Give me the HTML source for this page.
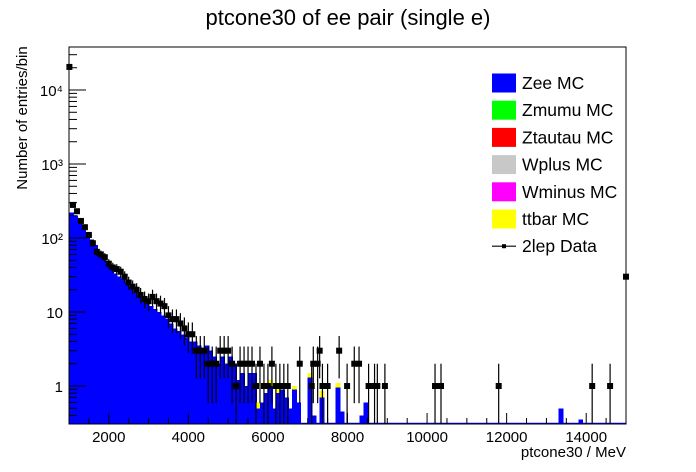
<!DOCTYPE html>
<html><head><meta charset="utf-8"><style>
body{margin:0;background:#fff;}
svg{display:block;font-family:"Liberation Sans",sans-serif;}
</style></head><body>
<svg id="c" width="696" height="472">
<text x="348" y="25" font-size="22" text-anchor="middle">ptcone30 of ee pair (single e)</text>
<text transform="translate(27,118) rotate(-90)" font-size="15" text-anchor="middle">Number of entries/bin</text>
<text x="626" y="457" font-size="15" text-anchor="end">ptcone30 / MeV</text>
<g id="plot"></g>
<g id="legend"></g>
</svg>
<script>
// MC (Zee) per-100-MeV bins starting at 1000
const mcStart = 1000, mcWidth = 100;
const mcValues = [220,200,160,130,110,95,80,65,55,45,38,33,30,28,25,22,19,17,15,13,12,11,10,9,8,7,6,5.5,5,4.5,4,4,3.5,3,3.5,3,2.5,2,2.5,2,2.5,2,1.2,1.5,1,1.5,1.5,0.5,0.6,0.8,1,0.5,0.8,0.9,0.7,0.5,0.9,0.6,0,0,1.3,0.4,0,0.7,0,0,0,0.95,0.45,0,0,0,0,0.4,0.6,0,0,0,0,0,0,0,0,0,0,0,0,0,0,0,0,0,0,0,0,0,0,0,0,0,0,0,0,0,0,0,0,0,0,0,0,0,0,0,0,0,0,0,0,0,0,0,0,0.5,0,0,0,0,0.35,0,0,0,0,0,0,0,0,0,0,0,0,0];
const ttbarValues = [0,0,0,0,0,0,0,0,0,0,0,0,0,0,0,0,0,0,0,0,0,0,0,0,0,0,0,0,0,0,0,0,0,0,0,0,0,0,0,0,0,0,0,0,0,0,0,0.1,0,0,0.2,0,0.2,0,0,0,0.1,0,0,0,0.2,0,0,0.15,0,0.3,0,0.15,0,0,0,0];
// Data points
const dataX = [1010,1100,1200,1300,1400,1500,1600,1700,1800,1900,2000,2100,2200,2300,2400,2500,2600,2700,2800,2900,3000,3100,3200,3300,3400,3500,3600,3700,3800,3900,4000,4100,4200,4300,4400,4500,4600,4700,4800,4900,5000,5100,5200,5300,5400,5500,5600,5700,5800,5900,6000,6100,6200,6300,6400,6500,6800,7140,7250,7300,7100,7370,7500,7790,7990,8170,8290,8530,8680,8750,8940,10200,10350,11800,14150,14600];
const dataY = [20500,280,230,170,140,110,85,65,60,55,45,40,38,35,30,25,22,20,17,15,14,16,14,13,12,9,8,8,7,6,5,5,3,3,3,2,2,2,3,3,3,2,1,2,2,2,2,1,2,1,1,2,1,1,1,1,2,2,2,3,1,1,1,3,1,2,2,1,1,1,1,1,1,1,1,1];
const yTicks = [1,10,100,1000,10000];
const yTickLabels = ["1","10","10²","10³","10⁴"];
const xTicks = [2000,4000,6000,8000,10000,12000,14000];

const L=69,R=626,T=47,B=424, XMIN=1000,XMAX=15000, YDEC=74, Y1=386;
const ns="http://www.w3.org/2000/svg";
const xs=v=>L+(v-XMIN)*(R-L)/(XMAX-XMIN);
const ys=v=>v<=0?B:Math.max(T,Math.min(B,Y1-Math.log10(v)*YDEC));
const plot=document.getElementById('plot');
function mk(t,a,p){const e=document.createElementNS(ns,t);for(const k in a)e.setAttribute(k,a[k]);(p||plot).appendChild(e);return e;}

mcValues.forEach((v,i)=>{
  const x0=xs(mcStart+i*mcWidth), x1=xs(mcStart+(i+1)*mcWidth);
  const tt=ttbarValues[i]||0;
  if(v+tt>0.3){
    const r=mk('rect',{x:x0,y:ys(v+tt),width:x1-x0+1,height:B-ys(v+tt),fill:'#ffff00','shape-rendering':'crispEdges'});
    
    
  }
  if(v>0.3){
    const r=mk('rect',{x:x0,y:ys(v),width:x1-x0+1,height:B-ys(v),fill:'#0000ff','shape-rendering':'crispEdges'});
    
    
  }
});
mk('line',{x1:L,y1:B-0.5,x2:R,y2:B-0.5,stroke:'#0000ff','stroke-width':1.5});

dataX.forEach((xv,i)=>{
  const v=dataY[i],x=xs(xv),s=Math.sqrt(v);
  const g=mk('g',{});
  
  
  mk('line',{x1:x,x2:x,y1:ys(v+s),y2:ys(v-s),stroke:'#000','stroke-width':1.2},g);
  mk('rect',{x:x-3,y:ys(v)-3,width:6,height:6,fill:'#000'},g);
});
const of=mk('rect',{x:R-3,y:ys(30)-3,width:6,height:6,fill:'#000'});



mk('rect',{x:L,y:T,width:R-L,height:B-T,fill:'none',stroke:'#000','stroke-width':1});
for(let d=-1;d<=4;d++){for(let m=1;m<10;m++){const v=m*Math.pow(10,d);const y=ys(v);if(y<=T||y>=B)continue;
  mk('line',{x1:L,x2:L+(m===1?17:8),y1:y,y2:y,stroke:'#000'});}}
yTicks.forEach((v,i)=>{const t=mk('text',{x:L-6,y:ys(v)+6,'font-size':15,'text-anchor':'end'});t.textContent=yTickLabels[i];
  });
for(let v=1000;v<=15000;v+=500){const x=xs(v);mk('line',{x1:x,x2:x,y1:B,y2:B-(v%2000===0?11:6),stroke:'#000'});}
xTicks.forEach(v=>{const t=mk('text',{x:xs(v),y:442,'font-size':15,'text-anchor':'middle'});t.textContent=v;
  });

const legNames=["Zee MC","Zmumu MC","Ztautau MC","Wplus MC","Wminus MC","ttbar MC","2lep Data"];
const legColors=["#0000ff","#00ff00","#ff0000","#c8c8c8","#ff00ff","#ffff00",null];
const lg=document.getElementById('legend');
legNames.forEach((n,i)=>{const yc=83+i*27.2;
  const g=mk('g',{},lg);
  
  
  if(legColors[i]){mk('rect',{x:492,y:yc-9.5,width:24,height:19,fill:legColors[i]},g);}
  else{mk('line',{x1:492,x2:516,y1:yc,y2:yc,stroke:'#000','stroke-width':1.2},g);mk('rect',{x:502,y:yc-2,width:4,height:4,fill:'#000'},g);}
  const t=mk('text',{x:522,y:yc+6,'font-size':17.5},g);t.textContent=n;});
</script>
</body></html>
